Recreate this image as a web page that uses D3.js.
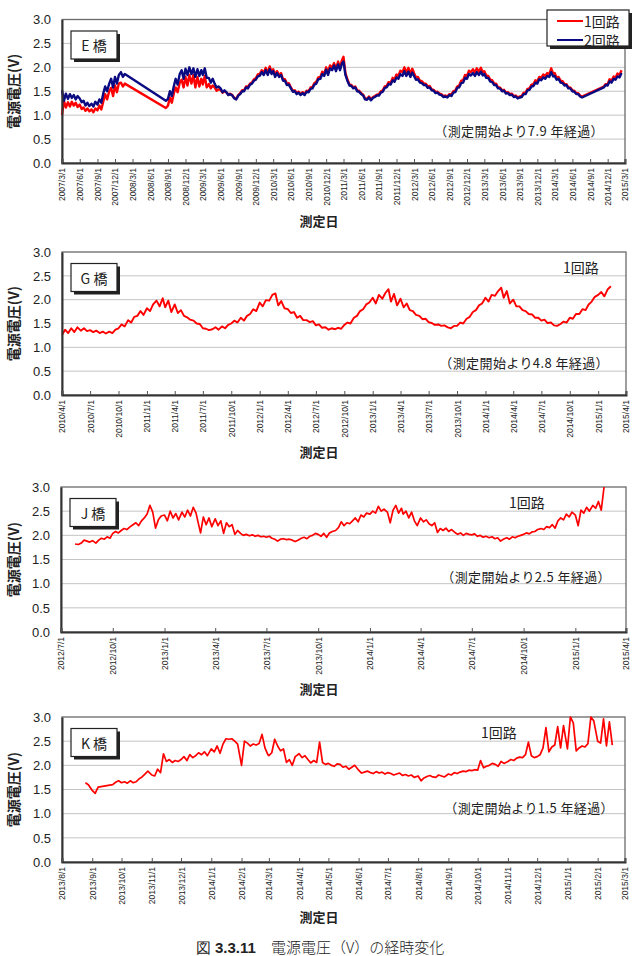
<!DOCTYPE html>
<html>
<head>
<meta charset="utf-8">
<script src="https://cdn.jsdelivr.net/npm/d3@7"></script>
<style>
  body { margin: 0; background: #fff; }
  svg text { font-family: "Liberation Sans", Arial, sans-serif; fill: #222; }
  svg text.jp { font-family: "Noto Sans CJK JP", sans-serif; }
</style>
</head>
<body>
<svg id="chart" width="633" height="956"></svg>
<script>
// readings are stored per month in equal slots (3 / month = 1st, 11th, 21st ...)
const yTicks = [0, 0.5, 1.0, 1.5, 2.0, 2.5, 3.0];
const gridValues = [0.5, 1.0, 1.5, 2.0, 2.5];
const seriesNames = ["1回路", "2回路"];

// E橋, 2007/3 -> 2015/2, 3 per month, one row per year
const eStart = [2007, 3];
const eCircuit1 = [
  1.00,1.30,1.16, 1.27,1.18,1.28, 1.20,1.26,1.17, 1.22,1.13,1.16, 1.09,1.14,1.08, 1.12,1.06,1.14, 1.10,1.20,1.12, 1.28,1.44,1.33, 1.50,1.57,1.40, 1.62,1.48,1.66,
  1.68,1.60,1.66, null,null,null, null,null,null, null,null,null, null,null,null, null,null,null, null,null,null, null,null,1.15, 1.20,1.37,1.26, 1.45,1.58,1.48, 1.68,1.74,1.58, 1.80,1.62,1.84,
  1.66,1.84,1.58, 1.80,1.60,1.76, 1.64,1.82,1.58, 1.65,1.56,1.62, 1.58,1.51,1.54, 1.53,1.47,1.50, 1.48,1.43,1.45, 1.42,1.36,1.34, 1.42,1.46,1.52, 1.52,1.60,1.59, 1.66,1.68,1.75, 1.77,1.85,1.86,
  1.94,1.88,1.99, 1.88,2.02,1.90, 1.96,1.84,1.92, 1.84,1.88,1.75, 1.75,1.66,1.67, 1.58,1.51,1.52, 1.46,1.49,1.44, 1.48,1.44,1.51, 1.50,1.58,1.59, 1.67,1.70,1.79, 1.80,1.91,1.86, 2.00,1.89,2.04,
  1.99,2.09,1.97, 2.12,1.99,2.15, 2.22,1.88,1.75, 1.64,1.63,1.58, 1.60,1.52,1.51, 1.46,1.43,1.35, 1.34,1.39,1.33, 1.38,1.40,1.43, 1.44,1.50,1.52, 1.60,1.61,1.69, 1.68,1.78,1.75, 1.85,1.82,1.93,
  1.90,2.00,1.89, 1.99,1.86,1.97, 1.88,1.79,1.80, 1.72,1.71,1.66, 1.66,1.60,1.61, 1.54,1.53,1.48, 1.49,1.45,1.44, 1.40,1.41,1.39, 1.44,1.43,1.50, 1.51,1.60,1.62, 1.72,1.73,1.84, 1.82,1.93,1.90,
  1.96,1.89,1.98, 1.91,1.99,1.89, 1.92,1.83,1.82, 1.74,1.73,1.66, 1.66,1.58,1.58, 1.52,1.53,1.47, 1.48,1.44,1.45, 1.40,1.41,1.37, 1.39,1.40,1.47, 1.47,1.55,1.56, 1.64,1.65,1.73, 1.71,1.80,1.78,
  1.85,1.82,1.88, 1.86,1.98,1.87, 1.88,1.78,1.80, 1.72,1.71,1.65, 1.65,1.58,1.58, 1.52,1.51,1.46, 1.46,1.41,1.39, null,null,null, null,null,null, null,null,null, null,1.60,1.65, 1.65,1.75,1.72,
  1.81,1.78,1.87, 1.84,1.94,null
];
const eCircuit2 = [
  1.52,1.30,1.45, 1.34,1.44,1.36, 1.42,1.33,1.40, 1.35,1.27,1.30, 1.20,1.26,1.19, 1.24,1.18,1.28, 1.22,1.33,1.26, 1.45,1.60,1.50, 1.66,1.76,1.58, 1.80,1.66,1.84,
  1.90,1.80,1.86, null,null,null, null,null,null, null,null,null, null,null,null, null,null,null, null,null,null, null,null,1.30, 1.34,1.50,1.40, 1.60,1.76,1.64, 1.86,1.94,1.76, 1.97,1.84,2.00,
  1.86,1.98,1.80, 1.96,1.82,1.94, 1.84,1.98,1.78, 1.78,1.68,1.76, 1.66,1.58,1.60, 1.56,1.48,1.52, 1.48,1.42,1.44, 1.41,1.35,1.33, 1.41,1.44,1.50, 1.50,1.58,1.56, 1.64,1.66,1.72, 1.74,1.81,1.82,
  1.90,1.84,1.94, 1.84,1.96,1.86, 1.92,1.80,1.88, 1.80,1.84,1.72, 1.72,1.63,1.64, 1.56,1.49,1.50, 1.44,1.47,1.42, 1.46,1.42,1.49, 1.48,1.55,1.56, 1.64,1.66,1.75, 1.76,1.86,1.82, 1.95,1.84,1.98,
  1.94,2.04,1.92, 2.06,1.94,2.08, 2.12,1.84,1.72, 1.62,1.61,1.56, 1.58,1.50,1.49, 1.44,1.41,1.33, 1.32,1.37,1.31, 1.36,1.38,1.41, 1.41,1.47,1.49, 1.57,1.58,1.65, 1.64,1.73,1.70, 1.79,1.76,1.86,
  1.82,1.92,1.82, 1.91,1.80,1.89, 1.82,1.74,1.75, 1.68,1.67,1.63, 1.63,1.57,1.58, 1.52,1.51,1.46, 1.47,1.43,1.42, 1.38,1.39,1.37, 1.42,1.40,1.47, 1.48,1.57,1.58, 1.67,1.68,1.78, 1.76,1.86,1.83,
  1.88,1.82,1.90, 1.84,1.91,1.83, 1.86,1.78,1.78, 1.70,1.69,1.63, 1.63,1.56,1.56, 1.50,1.51,1.45, 1.46,1.42,1.43, 1.38,1.39,1.35, 1.37,1.38,1.44, 1.44,1.52,1.53, 1.60,1.61,1.68, 1.66,1.75,1.73,
  1.79,1.76,1.82, 1.80,1.90,1.81, 1.82,1.74,1.76, 1.68,1.67,1.62, 1.63,1.56,1.56, 1.50,1.49,1.44, 1.44,1.39,1.37, null,null,null, null,null,null, null,null,null, null,1.58,1.63, 1.62,1.71,1.68,
  1.76,1.74,1.81, 1.79,1.88,null
];

// G橋, 2010/4 -> 2015/2, 3 per month
const gStart = [2010, 4];
const gCircuit1 = [
  1.26,1.37,1.30, 1.40,1.32,1.42, 1.35,1.40,1.34, 1.36,1.32,1.35, 1.30,1.33,1.29, 1.33,1.30,1.37, 1.40,1.48,1.44, 1.57,1.52,1.64, 1.66,1.76,1.68,
  1.82,1.76,1.90, 1.98,1.86,2.03, 1.84,1.98,1.74, 1.90,1.72,1.78, 1.66,1.63,1.58, 1.56,1.50,1.49, 1.40,1.39,1.36, 1.38,1.42,1.37, 1.44,1.40,1.47, 1.50,1.56,1.52, 1.62,1.56,1.66, 1.70,1.80,1.76,
  1.94,1.86,1.99, 1.98,2.10,2.13, 1.88,1.97,1.82, 1.80,1.72,1.74, 1.62,1.66,1.57, 1.57,1.53,1.55, 1.46,1.48,1.41, 1.42,1.37,1.40, 1.38,1.41,1.39, 1.47,1.52,1.50, 1.62,1.66,1.76, 1.80,1.90,1.94,
  2.04,1.92,2.10, 2.02,2.14,2.22, 1.96,2.12,1.88, 2.02,1.84,1.92, 1.78,1.76,1.68, 1.66,1.59,1.60, 1.53,1.51,1.47, 1.48,1.45,1.46, 1.42,1.40,1.45, 1.45,1.52,1.50, 1.60,1.64,1.74, 1.78,1.88,1.92,
  2.04,1.96,2.10, 2.08,2.18,2.25, 2.04,2.18,1.92, 2.00,1.86,1.86, 1.78,1.76,1.70, 1.69,1.62,1.62, 1.56,1.58,1.51, 1.52,1.46,1.45, 1.49,1.54,1.52, 1.62,1.60,1.70, 1.70,1.80,1.78, 1.90,1.96,2.06,
  2.10,2.16,2.07, 2.22,2.28,null
];

// J橋, 2012/7 -> 2015/2, 6 per month
const jStart = [2012, 7];
const jCircuit1 = [
  null,null,null,null,null,1.82, 1.81,1.84,1.90,1.88,1.86,1.89, 1.84,1.90,1.94,1.92,1.97,1.94, 2.04,2.08,2.05,2.10,2.14,2.12, 2.18,2.22,2.26,2.20,2.30,2.36, 2.44,2.62,2.48,2.15,2.32,2.40,
  2.42,2.30,2.50,2.36,2.45,2.32, 2.48,2.38,2.52,2.40,2.58,2.46, 2.30,2.05,2.38,2.22,2.36,2.18, 2.34,2.20,2.30,2.04,2.26,2.18, 2.22,2.02,2.10,2.04,2.00,2.02, 1.99,2.01,1.98,2.00,1.97,1.98,
  1.96,1.98,1.94,1.92,1.88,1.92, 1.93,1.91,1.92,1.90,1.87,1.90, 1.94,1.96,1.93,1.98,2.00,2.04, 2.02,1.98,2.04,1.96,2.05,2.08, 2.10,2.16,2.28,2.20,2.26,2.24, 2.30,2.36,2.28,2.42,2.38,2.46,
  2.44,2.50,2.46,2.60,2.50,2.54, 2.48,2.26,2.52,2.62,2.46,2.56, 2.44,2.50,2.36,2.48,2.30,2.20, 2.36,2.28,2.32,2.24,2.20,2.26, 2.06,2.14,2.10,2.15,2.08,2.12, 2.06,2.02,2.05,2.00,2.04,2.02,
  2.01,2.03,1.98,2.00,1.96,1.98, 1.95,1.97,1.93,1.95,1.88,1.92, 1.95,1.92,1.97,1.95,1.98,2.00, 2.02,2.05,2.03,2.07,2.08,2.12, 2.14,2.12,2.18,2.16,2.22,2.15, 2.30,2.36,2.32,2.44,2.38,2.48,
  2.42,2.20,2.52,2.46,2.58,2.50, 2.62,2.56,2.70,2.52,3.00,null
];

// K橋, 2013/8 -> 2015/2, 10 per month (one row per month)
const kStart = [2013, 8];
const kCircuit1 = [
  null,null,null,null,null,null,null,null,1.64,1.60,
  1.48,1.42,1.55,null,null,null,null,1.60,1.65,1.68,
  1.64,1.66,1.63,1.68,1.64,1.66,1.72,1.76,1.82,1.88,
  1.80,1.78,1.92,1.85,2.24,2.08,2.12,2.06,2.10,2.08,
  2.12,2.18,2.10,2.22,2.16,2.20,2.26,2.22,2.28,2.20,
  2.34,2.28,2.40,2.25,2.44,2.55,2.54,2.55,2.50,2.44,
  2.00,2.50,2.46,2.40,2.44,2.42,2.45,2.64,2.36,2.22,
  2.20,2.26,2.54,2.40,2.30,2.34,2.06,2.12,2.00,2.18,
  2.24,2.16,2.20,2.12,2.05,2.10,2.06,2.48,2.06,2.02,
  2.04,2.00,1.98,2.03,2.02,1.96,1.98,1.92,1.96,2.00,
  1.90,1.84,1.86,1.88,1.85,1.83,1.87,1.84,1.86,1.82,
  1.85,1.83,1.80,1.82,1.84,1.79,1.81,1.78,1.80,1.75,
  1.78,1.68,1.74,1.77,1.79,1.76,1.75,1.80,1.78,1.76,
  1.82,1.80,1.85,1.83,1.86,1.88,1.87,1.90,1.89,1.91,
  1.90,2.10,1.95,1.98,2.00,2.04,2.02,1.98,2.08,2.04,
  2.08,2.12,2.10,2.15,2.17,2.16,2.22,2.48,2.20,2.16,
  2.18,2.22,2.36,2.78,2.28,2.38,2.42,2.80,2.36,2.82,
  2.34,3.00,2.88,2.30,2.36,2.40,2.38,2.45,3.00,2.92,
  2.50,2.46,2.96,2.40,2.90,2.42,null,null,null,null
];

const noteTexts = ["（測定開始より7.9 年経過）", "（測定開始より4.8 年経過）", "（測定開始より2.5 年経過）", "（測定開始より1.5 年経過）"];
const bridgeNames = ["E 橋", "G 橋", "J 橋", "K 橋"];

function toPoints(start, perMonth, values) {
  return values.map((v, i) => ({
    date: new Date(start[0], start[1] - 1 + Math.floor(i / perMonth), 1 + Math.floor((i % perMonth) * 30 / perMonth)),
    v: v
  })).filter(d => d.v != null);
}

const red = "#ff0000", navy = "#0a0a82";

const panels = [
  { name: bridgeNames[0], top: 19.5, bottom: 163, left: 62, right: 625,
    from: new Date(2007, 2, 1), to: new Date(2015, 2, 1), every: 3, xTitleY: 226,
    series: [{ pts: toPoints(eStart, 3, eCircuit1), color: red, w: 2.4 },
             { pts: toPoints(eStart, 3, eCircuit2), color: navy, w: 2.4 }],
    note: noteTexts[0], noteX: 604, noteY: 130, legend: true },
  { name: bridgeNames[1], top: 252, bottom: 395, left: 62, right: 626,
    from: new Date(2010, 3, 1), to: new Date(2015, 3, 1), every: 3, xTitleY: 457,
    series: [{ pts: toPoints(gStart, 3, gCircuit1), color: red, w: 1.9 }],
    note: noteTexts[1], noteX: 609, noteY: 362, circuitX: 563, circuitY: 267 },
  { name: bridgeNames[2], top: 487, bottom: 632, left: 61, right: 626,
    from: new Date(2012, 6, 1), to: new Date(2015, 3, 1), every: 3, xTitleY: 694,
    series: [{ pts: toPoints(jStart, 6, jCircuit1), color: red, w: 1.7 }],
    note: noteTexts[2], noteX: 611, noteY: 576, circuitX: 509, circuitY: 502 },
  { name: bridgeNames[3], top: 717, bottom: 862, left: 62, right: 625,
    from: new Date(2013, 7, 1), to: new Date(2015, 2, 1), every: 1, xTitleY: 922,
    series: [{ pts: toPoints(kStart, 10, kCircuit1), color: red, w: 1.7 }],
    note: noteTexts[3], noteX: 614, noteY: 807, circuitX: 481, circuitY: 732 }
];

const svg = d3.select("#chart");
const fmt = d3.timeFormat("%Y/%-m/%-d");

panels.forEach(p => {
  const x = d3.scaleTime().domain([p.from, p.to]).range([p.left, p.right]);
  const y = d3.scaleLinear().domain([0, 3]).range([p.bottom, p.top]);
  const g = svg.append("g");

  g.selectAll("line.grid").data(gridValues).join("line")
    .attr("class", "grid")
    .attr("x1", p.left).attr("x2", p.right)
    .attr("y1", d => y(d)).attr("y2", d => y(d))
    .attr("stroke", "#c4c4c4").attr("stroke-width", 1);

  // border of plot area
  g.append("rect")
    .attr("x", p.left).attr("y", p.top)
    .attr("width", p.right - p.left).attr("height", p.bottom - p.top)
    .attr("fill", "none").attr("stroke", "#6a6a6a").attr("stroke-width", 1.3);

  const line = d3.line().x(d => x(d.date)).y(d => y(d.v));
  p.series.forEach(s => {
    g.append("path").datum(s.pts)
      .attr("fill", "none").attr("stroke", s.color).attr("stroke-width", s.w)
      .attr("stroke-linejoin", "round")
      .attr("d", line);
  });

  // y axis
  const ya = g.append("g").attr("transform", `translate(${p.left},0)`)
    .call(d3.axisLeft(y).tickValues(yTicks).tickFormat(d3.format(".1f")).tickSize(0).tickPadding(11));
  ya.select(".domain").attr("stroke", "#333").attr("stroke-width", 2);
  ya.selectAll(".tick text").attr("font-size", 13).attr("font-family", "Liberation Sans, Arial, sans-serif").attr("fill", "#2a2a2a");

  // x axis with rotated date labels, every n months from the first date
  const ticks = d3.timeMonth.range(p.from, d3.timeDay.offset(p.to, 1), p.every);
  const xa = g.append("g").attr("transform", `translate(0,${p.bottom})`)
    .call(d3.axisBottom(x).tickValues(ticks).tickFormat(fmt).tickSize(-4));
  xa.select(".domain").attr("stroke", "#333").attr("stroke-width", 2);
  xa.selectAll(".tick line").attr("stroke", "#555");
  xa.selectAll(".tick text")
    .attr("transform", "rotate(-90)")
    .attr("text-anchor", "end")
    .attr("x", -5).attr("y", 0).attr("dy", "0.35em")
    .attr("font-size", 8.5).attr("font-family", "Liberation Sans, Arial, sans-serif").attr("fill", "#2a2a2a");

  // axis titles
  g.append("text").attr("class", "jp")
    .attr("transform", `translate(13,${(p.top + p.bottom) / 2}) rotate(-90)`)
    .attr("text-anchor", "middle").attr("dominant-baseline", "central")
    .attr("font-size", 14).attr("font-weight", "bold")
    .text("電源電圧(V)");
  g.append("text").attr("class", "jp")
    .attr("x", 319).attr("y", p.xTitleY)
    .attr("text-anchor", "middle")
    .attr("font-size", 13).attr("font-weight", "bold")
    .text("測定日");

  // bridge label box with shadow
  const bx = p.left + 9, by = p.top + 11.5, bw = 46, bh = 28;
  g.append("rect").attr("x", bx + 3).attr("y", by + 3).attr("width", bw).attr("height", bh).attr("fill", "#222");
  g.append("rect").attr("x", bx).attr("y", by).attr("width", bw).attr("height", bh)
    .attr("fill", "#fff").attr("stroke", "#222").attr("stroke-width", 1.2);
  g.append("text").attr("class", "jp")
    .attr("x", bx + bw / 2).attr("y", by + bh / 2)
    .attr("text-anchor", "middle").attr("dominant-baseline", "central")
    .attr("font-size", 14).text(p.name);

  // elapsed-time note
  g.append("text").attr("class", "jp")
    .attr("x", p.noteX).attr("y", p.noteY)
    .attr("text-anchor", "end").attr("dominant-baseline", "central")
    .attr("font-size", 13).attr("letter-spacing", 0.4).attr("fill", "#222")
    .text(p.note);

  if (p.circuitX) {
    g.append("text").attr("class", "jp")
      .attr("x", p.circuitX).attr("y", p.circuitY)
      .attr("dominant-baseline", "central")
      .attr("font-size", 14).text(seriesNames[0]);
  }

  if (p.legend) {
    const lg = g.append("g").attr("transform", "translate(547,10)");
    lg.append("rect").attr("x", 3).attr("y", 3).attr("width", 82).attr("height", 36).attr("fill", "#222");
    lg.append("rect").attr("width", 82).attr("height", 36).attr("fill", "#fff").attr("stroke", "#222").attr("stroke-width", 1.2);
    p.series.forEach((s, i) => {
      lg.append("line").attr("x1", 10).attr("x2", 36).attr("y1", 11 + i * 19).attr("y2", 11 + i * 19)
        .attr("stroke", s.color).attr("stroke-width", 2);
      lg.append("text").attr("class", "jp").attr("x", 37).attr("y", 11 + i * 19)
        .attr("dominant-baseline", "central").attr("font-size", 14).text(seriesNames[i]);
    });
  }
});

// figure caption at the page bottom
const cap = svg.append("text").attr("x", 320).attr("y", 953).attr("text-anchor", "middle")
  .attr("font-size", 15).attr("font-family", "Liberation Serif, 'Noto Sans CJK JP', serif").attr("fill", "#333");
cap.append("tspan").text("図 ");
cap.append("tspan").attr("font-weight", "bold").text("3.3.11");
cap.append("tspan").attr("font-family", "'Noto Sans CJK JP', sans-serif").attr("font-weight", 300).text("　電源電圧（V）の経時変化");
</script>
</body>
</html>
